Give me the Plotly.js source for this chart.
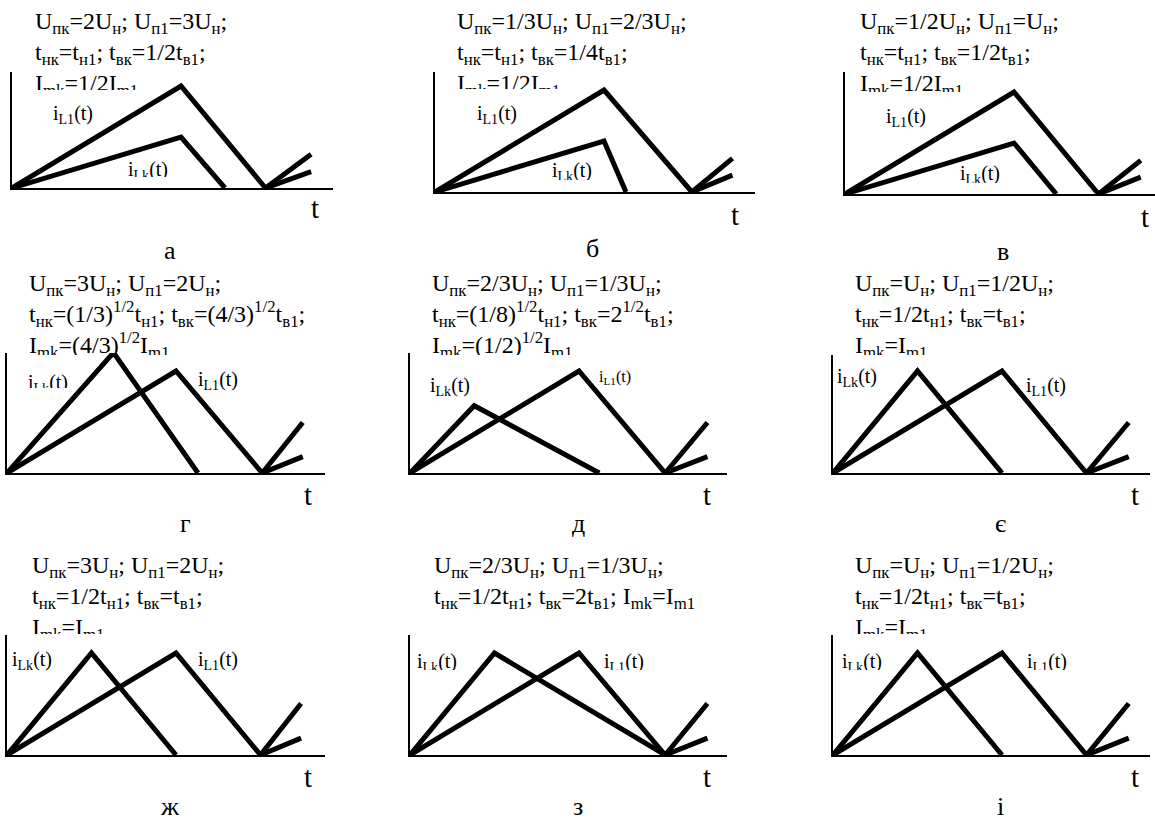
<!DOCTYPE html>
<html>
<head>
<meta charset="utf-8">
<script src="https://cdn.plot.ly/plotly-3.0.1.min.js"></script>
<style>
  html, body { margin: 0; padding: 0; background: #fff; }
  #plot { width: 1155px; height: 818px; }
</style>
</head>
<body>
<div id="plot"></div>
<script>
// panel letters
var panelNames = ['а', 'б', 'в', 'г', 'д', 'є', 'ж', 'з', 'і'];

// i_L1(t): time in units of t_н1, current in units of I_m1
var tL1 = [
    [0, 1, 1.5, 1.77], [0, 1, 1.52, 1.76], [0, 1, 1.5, 1.75],
    [0, 1, 1.51, 1.75], [0, 1, 1.51, 1.76], [0, 1, 1.5, 1.75],
    [0, 1, 1.5, 1.74], [0, 1, 1.51, 1.76], [0, 1, 1.5, 1.75]
];
var iL1 = [
    [0, 1, 0, 0.33], [0, 1, 0, 0.33], [0, 1, 0, 0.33],
    [0, 1, 0, 0.16], [0, 1, 0, 0.16], [0, 1, 0, 0.16],
    [0, 1, 0, 0.165], [0, 1, 0, 0.165], [0, 1, 0, 0.165]
];

// i_Lk(t)
var tLk = [
    [0, 1, 1.26, null, 1.5, 1.77], [0, 1, 1.13, null, 1.52, 1.76], [0, 1, 1.25, null, 1.5, 1.75],
    [0, 0.63, 1.13, null, 1.51, 1.75], [0, 0.38, 1.12, null, 1.51, 1.76], [0, 0.5, 1.0, null, 1.5, 1.75],
    [0, 0.5, 1.0, null, 1.5, 1.74], [0, 0.5, 1.51, 1.76], [0, 0.5, 1.0, null, 1.5, 1.75]
];
var iLk = [
    [0, 0.5, 0, null, 0, 0.16], [0, 0.5, 0, null, 0, 0.165], [0, 0.5, 0, null, 0, 0.165],
    [0, 1.18, 0, null, 0, 0.495], [0, 0.66, 0, null, 0, 0.495], [0, 1, 0, null, 0, 0.495],
    [0, 1, 0, null, 0, 0.505], [0, 1, 0, 0.505], [0, 1, 0, null, 0, 0.505]
];

// parameter captions
var captions = [
    'U<sub>пк</sub>=2U<sub>н</sub>; U<sub>п1</sub>=3U<sub>н</sub>;<br>t<sub>нк</sub>=t<sub>н1</sub>; t<sub>вк</sub>=1/2t<sub>в1</sub>;<br>I<sub>mk</sub>=1/2I<sub>m1</sub>',
    'U<sub>пк</sub>=1/3U<sub>н</sub>; U<sub>п1</sub>=2/3U<sub>н</sub>;<br>t<sub>нк</sub>=t<sub>н1</sub>; t<sub>вк</sub>=1/4t<sub>в1</sub>;<br>I<sub>mk</sub>=1/2I<sub>m1</sub>',
    'U<sub>пк</sub>=1/2U<sub>н</sub>; U<sub>п1</sub>=U<sub>н</sub>;<br>t<sub>нк</sub>=t<sub>н1</sub>; t<sub>вк</sub>=1/2t<sub>в1</sub>;<br>I<sub>mk</sub>=1/2I<sub>m1</sub>',
    'U<sub>пк</sub>=3U<sub>н</sub>; U<sub>п1</sub>=2U<sub>н</sub>;<br>t<sub>нк</sub>=(1/3)<sup>1/2</sup>t<sub>н1</sub>; t<sub>вк</sub>=(4/3)<sup>1/2</sup>t<sub>в1</sub>;<br>I<sub>mk</sub>=(4/3)<sup>1/2</sup>I<sub>m1</sub>',
    'U<sub>пк</sub>=2/3U<sub>н</sub>; U<sub>п1</sub>=1/3U<sub>н</sub>;<br>t<sub>нк</sub>=(1/8)<sup>1/2</sup>t<sub>н1</sub>; t<sub>вк</sub>=2<sup>1/2</sup>t<sub>в1</sub>;<br>I<sub>mk</sub>=(1/2)<sup>1/2</sup>I<sub>m1</sub>',
    'U<sub>пк</sub>=U<sub>н</sub>; U<sub>п1</sub>=1/2U<sub>н</sub>;<br>t<sub>нк</sub>=1/2t<sub>н1</sub>; t<sub>вк</sub>=t<sub>в1</sub>;<br>I<sub>mk</sub>=I<sub>m1</sub>',
    'U<sub>пк</sub>=3U<sub>н</sub>; U<sub>п1</sub>=2U<sub>н</sub>;<br>t<sub>нк</sub>=1/2t<sub>н1</sub>; t<sub>вк</sub>=t<sub>в1</sub>;<br>I<sub>mk</sub>=I<sub>m1</sub>',
    'U<sub>пк</sub>=2/3U<sub>н</sub>; U<sub>п1</sub>=1/3U<sub>н</sub>;<br>t<sub>нк</sub>=1/2t<sub>н1</sub>; t<sub>вк</sub>=2t<sub>в1</sub>; I<sub>mk</sub>=I<sub>m1</sub>',
    'U<sub>пк</sub>=U<sub>н</sub>; U<sub>п1</sub>=1/2U<sub>н</sub>;<br>t<sub>нк</sub>=1/2t<sub>н1</sub>; t<sub>вк</sub>=t<sub>в1</sub>;<br>I<sub>mk</sub>=I<sub>m1</sub>'
];

// layout geometry in pixels: origin x, origin y, x-axis end, y-axis top
var W = 1155, H = 818;
var boxes = [
    [12, 188, 333, 72], [435, 192, 755, 72], [845, 194, 1155, 72],
    [7, 473, 325, 353], [410, 473, 727, 353], [833, 473, 1150, 355],
    [7, 755, 325, 635], [410, 755, 727, 635], [833, 755, 1150, 635]
];
var pxPerT = 169, pxPerI = 102;
var captionPos = [[33, 6], [455, 6], [858, 6], [27, 268], [430, 268], [853, 268], [30, 550], [432, 550], [853, 550]];
var labelL1 = [[73, 114], [497, 115], [906, 117], [218, 380], [615, 378], [1046, 386], [218, 660], [624, 662], [1047, 662]];
var labelLk = [[148, 170], [572, 172], [980, 175], [48, 383], [450, 387], [857, 378], [32, 660], [437, 662], [862, 662]];
var letterPos = [[170, 250], [592, 248], [1003, 252], [185, 523], [578, 523], [1000, 523], [170, 806], [578, 806], [1000, 806]];
var tPos = [[315, 208], [735, 215], [1145, 217], [308, 495], [707, 495], [1135, 495], [308, 777], [707, 777], [1135, 777]];

// white strips where the source picture cuts its text off: x0, y0, x1, y1
var covers = [
    [28, 90, 150, 101], [450, 89, 572, 100], [853, 92, 985, 101],
    [120, 177, 180, 186], [545, 180, 600, 190], [952, 183, 1008, 192],
    [22, 355, 99, 366], [128, 355, 182, 366], [425, 355, 592, 366], [848, 355, 965, 366],
    [22, 388, 69, 396],
    [25, 634, 135, 645], [848, 634, 965, 645],
    [412, 670, 465, 679], [603, 670, 652, 677], [836, 670, 890, 679], [1028, 670, 1076, 677]
];

var serif = 'Liberation Serif';
var data = [];
var layout = {
    width: W, height: H,
    margin: { l: 0, r: 0, t: 0, b: 0 },
    paper_bgcolor: '#fff', plot_bgcolor: 'rgba(0,0,0,0)',
    showlegend: false,
    font: { family: serif, color: '#000' },
    annotations: []
};

function px(x) { return x / W; }
function py(y) { return 1 - y / H; }

function note(text, x, y, size, xa, ya) {
    layout.annotations.push({
        text: text, xref: 'paper', yref: 'paper', x: px(x), y: py(y),
        xanchor: xa || 'center', yanchor: ya || 'middle', showarrow: false,
        align: 'left', font: { family: serif, size: size, color: '#000' }
    });
}

for (var k = 0; k < 9; k++) {
    var n = k + 1, b = boxes[k];
    var xa = 'x' + n, ya = 'y' + n;
    data.push({ x: tL1[k], y: iL1[k], xaxis: xa, yaxis: ya, type: 'scatter', mode: 'lines',
        line: { color: '#000', width: 5 }, hoverinfo: 'skip' });
    data.push({ x: tLk[k], y: iLk[k], xaxis: xa, yaxis: ya, type: 'scatter', mode: 'lines',
        line: { color: '#000', width: 5 }, hoverinfo: 'skip' });

    var axis = { showline: true, linecolor: '#000', linewidth: 2, showgrid: false, zeroline: false,
        showticklabels: false, ticks: '', fixedrange: true };
    layout['xaxis' + n] = Object.assign({}, axis, {
        domain: [px(b[0]), px(b[2])], range: [0, (b[2] - b[0]) / pxPerT], anchor: ya });
    layout['yaxis' + n] = Object.assign({}, axis, {
        domain: [py(b[1]), py(b[3])], range: [0, (b[1] - b[3]) / pxPerI], anchor: xa });

    note(captions[k], captionPos[k][0], captionPos[k][1], 24, 'left', 'top');
    note('i<sub>L1</sub>(t)', labelL1[k][0], labelL1[k][1], k === 4 ? 16 : 20);
    note('i<sub>Lk</sub>(t)', labelLk[k][0], labelLk[k][1], 20);
    note('t', tPos[k][0], tPos[k][1], 29);
    note(panelNames[k], letterPos[k][0], letterPos[k][1], 26);
}

covers.forEach(function (c) {
    layout.annotations.push({
        text: ' ', xref: 'paper', yref: 'paper', x: px(c[0]), y: py(c[1]),
        xanchor: 'left', yanchor: 'top', showarrow: false,
        width: c[2] - c[0], height: c[3] - c[1], bgcolor: '#fff', borderpad: 0, borderwidth: 0
    });
});

Plotly.newPlot('plot', data, layout, { staticPlot: true });
</script>
</body>
</html>
